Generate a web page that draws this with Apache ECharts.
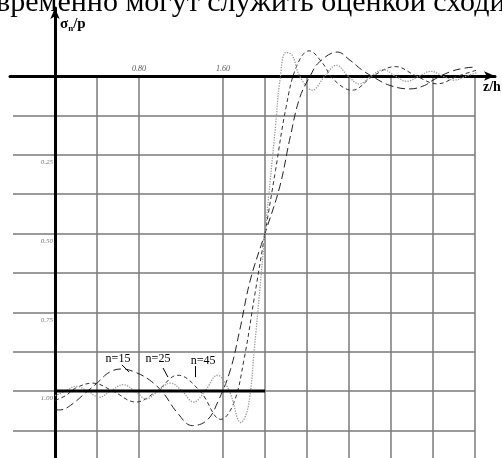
<!DOCTYPE html>
<html><head><meta charset="utf-8">
<script src="https://cdn.jsdelivr.net/npm/echarts@6/dist/echarts.min.js"></script>
<style>html,body{margin:0;padding:0;background:#fff}#c{width:502px;height:458px}</style>
</head><body><div id="c"></div>
<script>
const headerText = 'временно могут служить оценкой сходи';
const xTickLabels = { '0.8': '0.80', '1.6': '1.60' };
const yTickLabels = { '0.25': '0.25', '0.5': '0.50', '0.75': '0.75', '1': '1.00' };
const stepLoad = [[0, 1], [2, 1]];
const n15 = [[0,1.06],[0.05,1.06],[0.15,1.045],[0.29,1.006],[0.4,0.975],[0.52,0.94],[0.64,0.93],[0.76,0.94],[0.9,0.965],[1.03,1.006],[1.16,1.067],[1.31,1.11],[1.45,1.092],[1.55,1.035],[1.67,0.933],[1.76,0.806],[1.86,0.648],[2.0,0.5],[2.14,0.352],[2.24,0.194],[2.33,0.07],[2.43,0.0],[2.52,-0.045],[2.69,-0.076],[2.81,-0.05],[2.92,-0.02],[3.03,0.003],[3.19,0.03],[3.38,0.041],[3.52,0.03],[3.6,0.013],[3.76,-0.013],[3.9,-0.025],[4.02,-0.029]];
const n25 = [[0,1.03],[0.1,1.015],[0.2,0.99],[0.36,0.975],[0.55,1.0],[0.77,1.035],[0.97,1.0],[1.17,0.95],[1.38,1.0],[1.58,1.09],[1.7,1.04],[1.8,0.9],[1.9,0.7],[2.0,0.5],[2.1,0.3],[2.2,0.1],[2.3,-0.03],[2.42,-0.08],[2.55,-0.04],[2.65,0.01],[2.83,0.045],[3.03,0.0],[3.24,-0.03],[3.44,0.0],[3.64,0.025],[3.84,0.0],[4.03,-0.02]];
const n45 = [[0,1.015],[0.1,1.0],[0.2,0.985],[0.31,1.0],[0.42,1.02],[0.53,1.0],[0.65,0.98],[0.76,1.0],[0.87,1.025],[0.98,1.0],[1.1,0.975],[1.21,1.0],[1.32,1.035],[1.43,1.0],[1.545,0.95],[1.66,1.0],[1.77,1.1],[1.84,1.05],[1.9,0.86],[1.95,0.68],[2.0,0.5],[2.05,0.33],[2.1,0.16],[2.14,0.02],[2.2,-0.075],[2.26,-0.065],[2.33,0.0],[2.45,0.045],[2.57,0.0],[2.68,-0.034],[2.79,0.0],[2.9,0.025],[3.01,0.0],[3.13,-0.02],[3.24,0.0],[3.35,0.017],[3.47,0.0],[3.58,-0.015],[3.69,0.0],[3.8,0.013],[3.92,0.0],[4.03,-0.012]];
const curveNames = ['n=15', 'n=25', 'n=45'];
const labelAt = [[0.6, 0.898], [0.981, 0.898], [1.41, 0.905]];
const leaders = [[[0.638, 0.917], [0.705, 0.94]], [[1.029, 0.927], [1.076, 0.956]], [[1.333, 0.921], [1.333, 0.956]]];

const G = '#7a7a7a', T = 'rgba(0,0,0,0)';
const serif = '"Liberation Serif", "DejaVu Serif", serif';
const chart = echarts.init(document.getElementById('c'), null, { renderer: 'canvas' });

function curve(name, data, color, type, width) {
  return {
    name, type: 'line', data, xAxisIndex: 0, yAxisIndex: 0, symbol: 'none', smooth: 0.4, clip: false,
    lineStyle: { color, type, width }, z: 3, silent: true
  };
}
const gridBase = { containLabel: false, outerBoundsMode: 'none' };

const option = {
  animation: false,
  backgroundColor: '#fff',
  grid: [
    Object.assign({ left: 13, right: 27, top: 76, bottom: 0 }, gridBase),
    Object.assign({ left: 10, right: 7, top: 76, height: 1 }, gridBase),
    Object.assign({ left: 55, width: 1, top: 8, bottom: 0 }, gridBase)
  ],
  xAxis: [
    { gridIndex: 0, type: 'value', min: -0.4, max: 4.0, interval: 0.4, position: 'top',
      axisLine: { show: false, onZero: false }, axisTick: { show: false },
      axisLabel: { show: true, margin: 3, fontSize: 8, fontStyle: 'italic', color: '#555', fontFamily: serif,
        formatter: v => xTickLabels[String(Math.round(v * 10) / 10)] || '' },
      splitLine: { show: true, lineStyle: { width: 1.5, color: [T, T, G, G, T, G, G, G, G, G, G, G] } } },
    { gridIndex: 1, type: 'value', min: 0, max: 1, position: 'top',
      axisLine: { show: true, onZero: false, symbol: ['none', 'arrow'], symbolSize: [7, 11], lineStyle: { color: '#000', width: 3 } },
      axisTick: { show: false }, axisLabel: { show: false }, splitLine: { show: false } },
    { gridIndex: 2, type: 'value', show: false }
  ],
  yAxis: [
    { gridIndex: 0, type: 'value', inverse: true, min: 0, max: 382 / 315, interval: 0.125, position: 'left', offset: -42,
      axisLine: { show: false, onZero: false }, axisTick: { show: false },
      axisLabel: { show: true, margin: 2, fontSize: 7, fontStyle: 'italic', color: '#777', fontFamily: serif,
        verticalAlign: 'top', padding: [4, 0, 0, 0],
        formatter: v => yTickLabels[String(Math.round(v * 100) / 100)] || '' },
      splitLine: { show: true, lineStyle: { width: 1.5, color: [T, G, G, G, G, G, G, G, G, G, T] } } },
    { gridIndex: 1, type: 'value', show: false, min: 0, max: 1 },
    { gridIndex: 2, type: 'value', min: 0, max: 1, position: 'left',
      axisLine: { show: true, onZero: false, symbol: ['none', 'arrow'], symbolSize: [7, 11], lineStyle: { color: '#000', width: 3 } },
      axisTick: { show: false }, axisLabel: { show: false }, splitLine: { show: false } }
  ],
  series: [
    { name: 'step', type: 'line', data: stepLoad, xAxisIndex: 0, yAxisIndex: 0, symbol: 'none', clip: false,
      lineStyle: { color: '#000', width: 3 }, z: 4, silent: true,
      markLine: { silent: true, symbol: 'none', label: { show: false }, lineStyle: { color: '#000', width: 1, type: 'solid' },
        data: leaders.map(l => [{ coord: l[0] }, { coord: l[1] }]) },
      markPoint: { silent: true, symbol: 'rect', symbolSize: 0,
        label: { show: true, position: 'inside', color: '#000', fontSize: 12, fontFamily: serif, formatter: p => p.name },
        data: curveNames.map((n, i) => ({ name: n, coord: labelAt[i] })) } },
    curve('n=15', n15, '#222', [8, 4], 1),
    curve('n=25', n25, '#333', [4, 3], 1),
    curve('n=45', n45, '#999', 'dotted', 1.3)
  ],
  graphic: [
    { type: 'text', left: -4, top: -12, style: { text: headerText, font: '30px ' + serif, fill: '#000' } },
    { type: 'text', left: 60, top: 17, style: { text: '{a|σ}{b|n}{a|/p}', rich: {
        a: { fontSize: 15, fontWeight: 'bold', fontFamily: serif, fill: '#000' },
        b: { fontSize: 9, fontWeight: 'bold', fontFamily: serif, fill: '#000', padding: [8, 0, 0, 0] } } } },
    { type: 'text', left: 483, top: 80, style: { text: 'z/h', font: 'bold 14px ' + serif, fill: '#000' } }
  ]
};
chart.setOption(option);
</script></body></html>
